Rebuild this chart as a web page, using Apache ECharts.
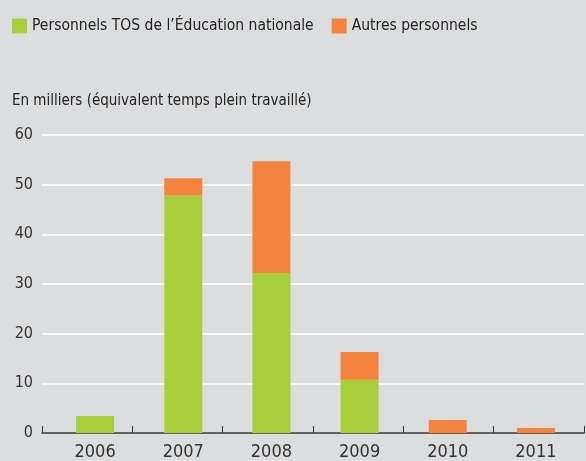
<!DOCTYPE html>
<html><head><meta charset="utf-8">
<script src="https://cdn.jsdelivr.net/npm/echarts@6/dist/echarts.min.js"></script>
<style>html,body{margin:0;padding:0;background:#dcdddf}#c{width:586px;height:461px}</style>
</head><body><div id="c"></div>
<script>
var categories = ['2006','2007','2008','2009','2010','2011'];
var tosValues = [3.4, 47.8, 32.2, 10.7, 0, 0];
var autresValues = [0, 3.5, 22.5, 5.6, 2.6, 1.0];
var yTicks = [0,10,20,30,40,50,60];
var FONT = '"DejaVu Sans Condensed","DejaVu Sans",sans-serif';
var chart = echarts.init(document.getElementById('c'));
var yMin = yTicks[0], yMax = yTicks[yTicks.length-1];
chart.setOption({
  backgroundColor: '#dcdddf',
  animation: false,
  textStyle: {fontFamily: FONT},
  legend: {
    left: 7, top: 13, itemWidth: 15, itemHeight: 15, itemGap: 18, width: 570,
    icon: 'rect',
    textStyle: {fontFamily: FONT, fontSize: 15.5, color: '#222'},
    data: ['Personnels TOS de l\u2019\u00c9ducation nationale', 'Autres personnels']
  },
  title: {
    text: 'En milliers (\u00e9quivalent temps plein travaill\u00e9)',
    left: 7, top: 89,
    textStyle: {fontFamily: FONT, fontSize: 15, fontWeight: 'normal', color: '#222'}
  },
  grid: [
    {left: 42, right: 2, top: 135, bottom: 28, containLabel: false},
    {left: 51, right: 6, top: 135, bottom: 28, containLabel: false}
  ],
  xAxis: [
    {type: 'category', gridIndex: 0, data: categories,
     axisLine: {lineStyle: {color: '#333', width: 1.5}},
     axisTick: {show: true, inside: true, length: 7, lineStyle: {color: '#333'}},
     axisLabel: {show: false}},
    {type: 'category', gridIndex: 1, data: categories,
     axisLine: {show: false}, axisTick: {show: false},
     axisLabel: {fontFamily: FONT, fontSize: 18, color: '#333', margin: 10}}
  ],
  yAxis: [
    {type: 'value', gridIndex: 0, min: yMin, max: yMax, interval: 10,
     axisLine: {show: false}, axisTick: {show: false},
     splitLine: {lineStyle: {color: '#ffffff', width: 1.5}},
     axisLabel: {fontFamily: FONT, fontSize: 16, color: '#333', margin: 9}},
    {type: 'value', gridIndex: 1, min: yMin, max: yMax, interval: 10,
     axisLine: {show: false}, axisTick: {show: false}, splitLine: {show: false},
     axisLabel: {show: false}}
  ],
  series: [
    {name: 'Personnels TOS de l\u2019\u00c9ducation nationale', type: 'bar', stack: 's', data: tosValues,
     xAxisIndex: 1, yAxisIndex: 1, barWidth: 38, itemStyle: {color: '#a8cf3a'}},
    {name: 'Autres personnels', type: 'bar', stack: 's', data: autresValues,
     xAxisIndex: 1, yAxisIndex: 1, barWidth: 38, itemStyle: {color: '#f4843c'}}
  ]
});
</script></body></html>
